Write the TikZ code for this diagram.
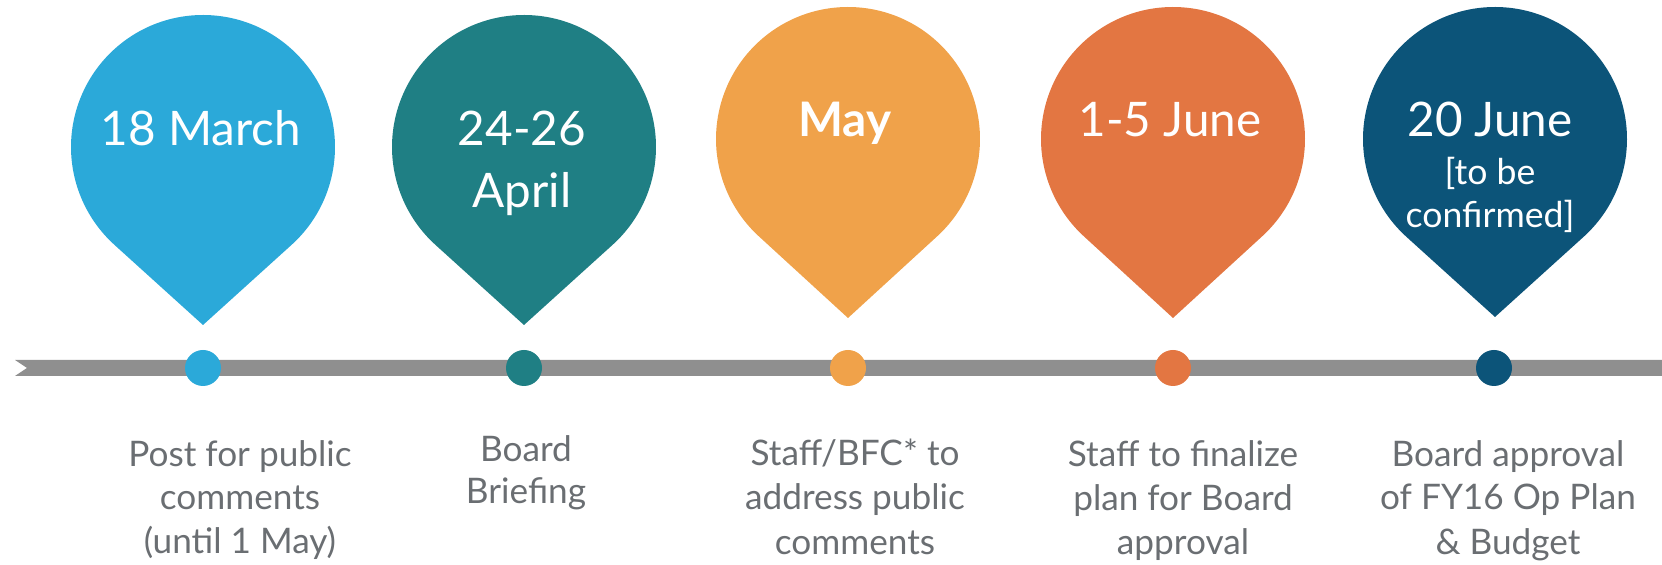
\documentclass[tikz,border=0pt]{standalone}
\usepackage{fontspec}
\setmainfont{Lato}
\definecolor{c1}{HTML}{2BA9D9}
\definecolor{c2}{HTML}{1F7F84}
\definecolor{c3}{HTML}{F0A24A}
\definecolor{c4}{HTML}{E37642}
\definecolor{c5}{HTML}{0C5479}
\definecolor{bargray}{HTML}{8F8F8F}
\definecolor{labelgray}{HTML}{6A6E72}
\newcommand{\droppin}[4]{%
  \pgfmathsetmacro\pinang{acos(132/(#3-#2))}%
  \fill[#4] (#1,-#3) -- ([shift={(\pinang-90:132)}]#1,-#2)
    arc[start angle=\pinang-90, end angle=270-\pinang, radius=132] -- cycle;%
}
\tikzset{
  tldot/.style={circle, fill=#1, minimum size=18pt, inner sep=0pt},
  datetext/.style={text=white, font=\fontsize{23.8}{28}\selectfont, anchor=base, inner sep=0pt},
  smalldate/.style={text=white, font=\fontsize{17.8}{21}\selectfont, anchor=base, inner sep=0pt},
  notetext/.style={text=labelgray, font=\fontsize{17.6}{21}\selectfont, anchor=base, inner sep=0pt},
}
\begin{document}
\begin{tikzpicture}[x=0.5pt,y=0.5pt]
\useasboundingbox (0,0) rectangle (1662,-565);
% pins
\droppin{203}{147}{325}{c1}
\droppin{524}{147}{325}{c2}
\droppin{848}{139}{318}{c3}
\droppin{1173}{139}{318}{c4}
\droppin{1495}{139}{317}{c5}
% timeline bar
\fill[bargray] (15,-360) -- (1662,-360) -- (1662,-376) -- (15,-376) -- (27,-368) -- cycle;
% dots
\node[tldot=c1] (d1) at (203,-368) {};
\node[tldot=c2] (d2) at (524,-368) {};
\node[tldot=c3] (d3) at (848,-368) {};
\node[tldot=c4] (d4) at (1173,-368) {};
\node[tldot=c5] (d5) at (1494,-368) {};
% dates
\node[datetext] (p1) at (201,-146) {18 March};
\node[datetext] (p2a) at (522,-146) {24-26};
\node[datetext] (p2b) at (522,-208) {April};
\node[datetext, font=\fontsize{23.8}{28}\selectfont\bfseries] (p3) at (845,-137) {May};
\node[datetext] (p4) at (1170,-137) {1-5 June};
\node[datetext] (p5a) at (1490,-137) {20 June};
\node[smalldate] (p5b) at (1490,-185) {[to be};
\node[smalldate] (p5c) at (1490,-228) {confirmed]};
% labels
\node[notetext] (l1a) at (240,-467) {Post for public};
\node[notetext] (l1b) at (240,-510) {comments};
\node[notetext] (l1c) at (240,-554) {(until 1 May)};
\node[notetext] (l2a) at (526,-462) {Board};
\node[notetext] (l2b) at (526,-504) {Briefing};
\node[notetext] (l3a) at (855,-466) {Staff/BFC* to};
\node[notetext] (l3b) at (855,-510) {address public};
\node[notetext] (l3c) at (855,-555) {comments};
\node[notetext] (l4a) at (1183,-467) {Staff to finalize};
\node[notetext] (l4b) at (1183,-511) {plan for Board};
\node[notetext] (l4c) at (1183,-555) {approval};
\node[notetext] (l5a) at (1508,-467) {Board approval};
\node[notetext] (l5b) at (1508,-510) {of FY16 Op Plan};
\node[notetext] (l5c) at (1508,-555) {\& Budget};
\end{tikzpicture}
\end{document}
